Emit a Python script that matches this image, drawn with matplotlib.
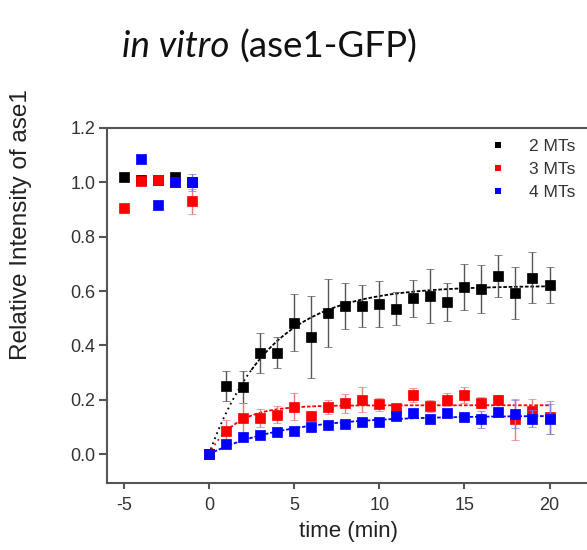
import matplotlib
matplotlib.use("Agg")
import matplotlib.pyplot as plt
from matplotlib.lines import Line2D
import numpy as np

plt.rcParams["axes.unicode_minus"] = False

# ---- data ----
pre_t = [-5, -4, -3, -2, -1]
pre_black = [1.02, 1.01, 1.01, 1.02, 1.00]
pre_red = [0.905, 1.005, 1.01, 1.00, 0.93]
pre_red_err = [0, 0, 0, 0, 0.045]
pre_blue_t = [-4, -3, -2, -1]
pre_blue = [1.085, 0.915, 1.00, 1.00]
pre_blue_err = [0, 0, 0, 0.03]

t = list(range(0, 21))
black = [0.0, 0.25, 0.247, 0.373, 0.373, 0.483, 0.432, 0.518, 0.545, 0.545, 0.553,
         0.535, 0.573, 0.582, 0.561, 0.615, 0.608, 0.655, 0.594, 0.649, 0.622]
black_err = [0.0, 0.055, 0.058, 0.073, 0.057, 0.105, 0.15, 0.125, 0.085, 0.076, 0.085,
             0.06, 0.067, 0.10, 0.07, 0.085, 0.088, 0.077, 0.095, 0.093, 0.067]
red = [0.0, 0.087, 0.134, 0.134, 0.146, 0.174, 0.14, 0.174, 0.187, 0.201, 0.183,
       0.17, 0.217, 0.177, 0.201, 0.217, 0.189, 0.201, 0.128, 0.158, 0.136]
red_err = [0.0, 0.04, 0.055, 0.033, 0.03, 0.05, 0.01, 0.027, 0.036, 0.045, 0.025,
           0.01, 0.025, 0.022, 0.025, 0.03, 0.02, 0.015, 0.075, 0.045, 0.06]
blue = [0.0, 0.038, 0.064, 0.07, 0.082, 0.085, 0.10, 0.107, 0.112, 0.119, 0.119,
        0.14, 0.152, 0.131, 0.152, 0.136, 0.128, 0.156, 0.148, 0.131, 0.128]
blue_err = [0.0, 0.008, 0.008, 0.008, 0.008, 0.008, 0.01, 0.008, 0.008, 0.008, 0.008,
            0.01, 0.01, 0.01, 0.01, 0.01, 0.03, 0.015, 0.05, 0.03, 0.055]

# exponential fit parameters (amplitude, tau in min, start of dense part)
fits = {
    "2 MTs": (0.62, 3.6, 2.5),
    "3 MTs": (0.18, 1.6, 1.0),
    "4 MTs": (0.142, 4.5, 0.0),
}
labels = ["2 MTs", "3 MTs", "4 MTs"]
colors = ["#000000", "#ff0000", "#0000ff"]
err_colors = ["#555555", "#e87a7a", "#7a7ae8"]

fig = plt.figure(figsize=(5.87, 5.5), dpi=100)
ax = fig.add_axes([0.1818, 0.1218, 0.8182, 0.6455])

mk = dict(fmt="s", markersize=6.5, markeredgewidth=0.5, elinewidth=1.0,
          capsize=3.2, capthick=1.0)

series = [(black, black_err), (red, red_err), (blue, blue_err)]
for i, (lab, (y, e)) in enumerate(zip(labels, series)):
    ax.errorbar(t, y, yerr=e, color=colors[i], mec=colors[i], ecolor=err_colors[i],
                zorder=3 + i, **mk)
    amp, tau, split = fits[lab]
    if split > 0:
        tt = np.linspace(0, split, 30)
        ax.plot(tt, amp * (1 - np.exp(-tt / tau)), color=colors[i], lw=1.3,
                ls=(0, (1, 2)), zorder=2 + i)
    tt = np.linspace(split, 20, 200)
    ax.plot(tt, amp * (1 - np.exp(-tt / tau)), color=colors[i], lw=1.3,
            ls=(0, (2, 1)), zorder=2 + i)

ax.plot(pre_t, pre_black, "s", color=colors[0], ms=6.5, mew=0.5, zorder=3)
ax.errorbar(pre_t, pre_red, yerr=pre_red_err, color=colors[1], mec=colors[1],
            ecolor=err_colors[1], zorder=4, **mk)
ax.errorbar(pre_blue_t, pre_blue, yerr=pre_blue_err, color=colors[2], mec=colors[2],
            ecolor=err_colors[2], zorder=5, **mk)

ax.set_xlim(-6, 22.2)
ax.set_ylim(-0.106, 1.2)
ax.set_xticks([-5, 0, 5, 10, 15, 20])
ax.set_yticks([0.0, 0.2, 0.4, 0.6, 0.8, 1.0, 1.2])
ax.set_yticklabels(["0.0", "0.2", "0.4", "0.6", "0.8", "1.0", "1.2"])

for s in ["left", "top", "bottom"]:
    ax.spines[s].set_color("#555555")
    ax.spines[s].set_linewidth(1.5)
ax.spines["right"].set_visible(False)
ax.tick_params(axis="both", colors="#555555", labelcolor="#333333",
               labelsize=13, width=1.5, direction="out")
ax.tick_params(axis="y", length=6, pad=2)
ax.tick_params(axis="x", length=4, pad=6)
for lbl in ax.get_xticklabels() + ax.get_yticklabels():
    lbl.set_family("Liberation Sans")

fig.text(0.593, 0.023, "time (min)", ha="center", va="baseline",
         fontsize=16, family="Liberation Sans", color="#222222")
fig.text(0.036, 0.591, "Relative Intensity of ase1", ha="center", va="center",
         rotation=90, fontsize=17.5, family="Liberation Sans", color="#222222")

# title: italic part + regular part
fig.text(0.391, 0.896, "in vitro", ha="right", va="baseline", fontsize=26.5,
         style="italic", family="Lato", color="#111111")
fig.text(0.407, 0.896, "(ase1-GFP)", ha="left", va="baseline", fontsize=26.5,
         family="Lato", color="#111111")

handles = [Line2D([], [], ls="none", marker="s", ms=5, mew=0, color=c) for c in colors]
leg = ax.legend(handles, labels, loc="upper left", bbox_to_anchor=(0.834, 0.748),
                bbox_transform=fig.transFigure, frameon=False, fontsize=12.5,
                handlelength=1.0, handletextpad=1.3, labelspacing=0.45,
                borderpad=0, borderaxespad=0)
for txt in leg.get_texts():
    txt.set_family("Liberation Sans")
    txt.set_color("#333333")

fig.savefig("out.png", dpi=100)
